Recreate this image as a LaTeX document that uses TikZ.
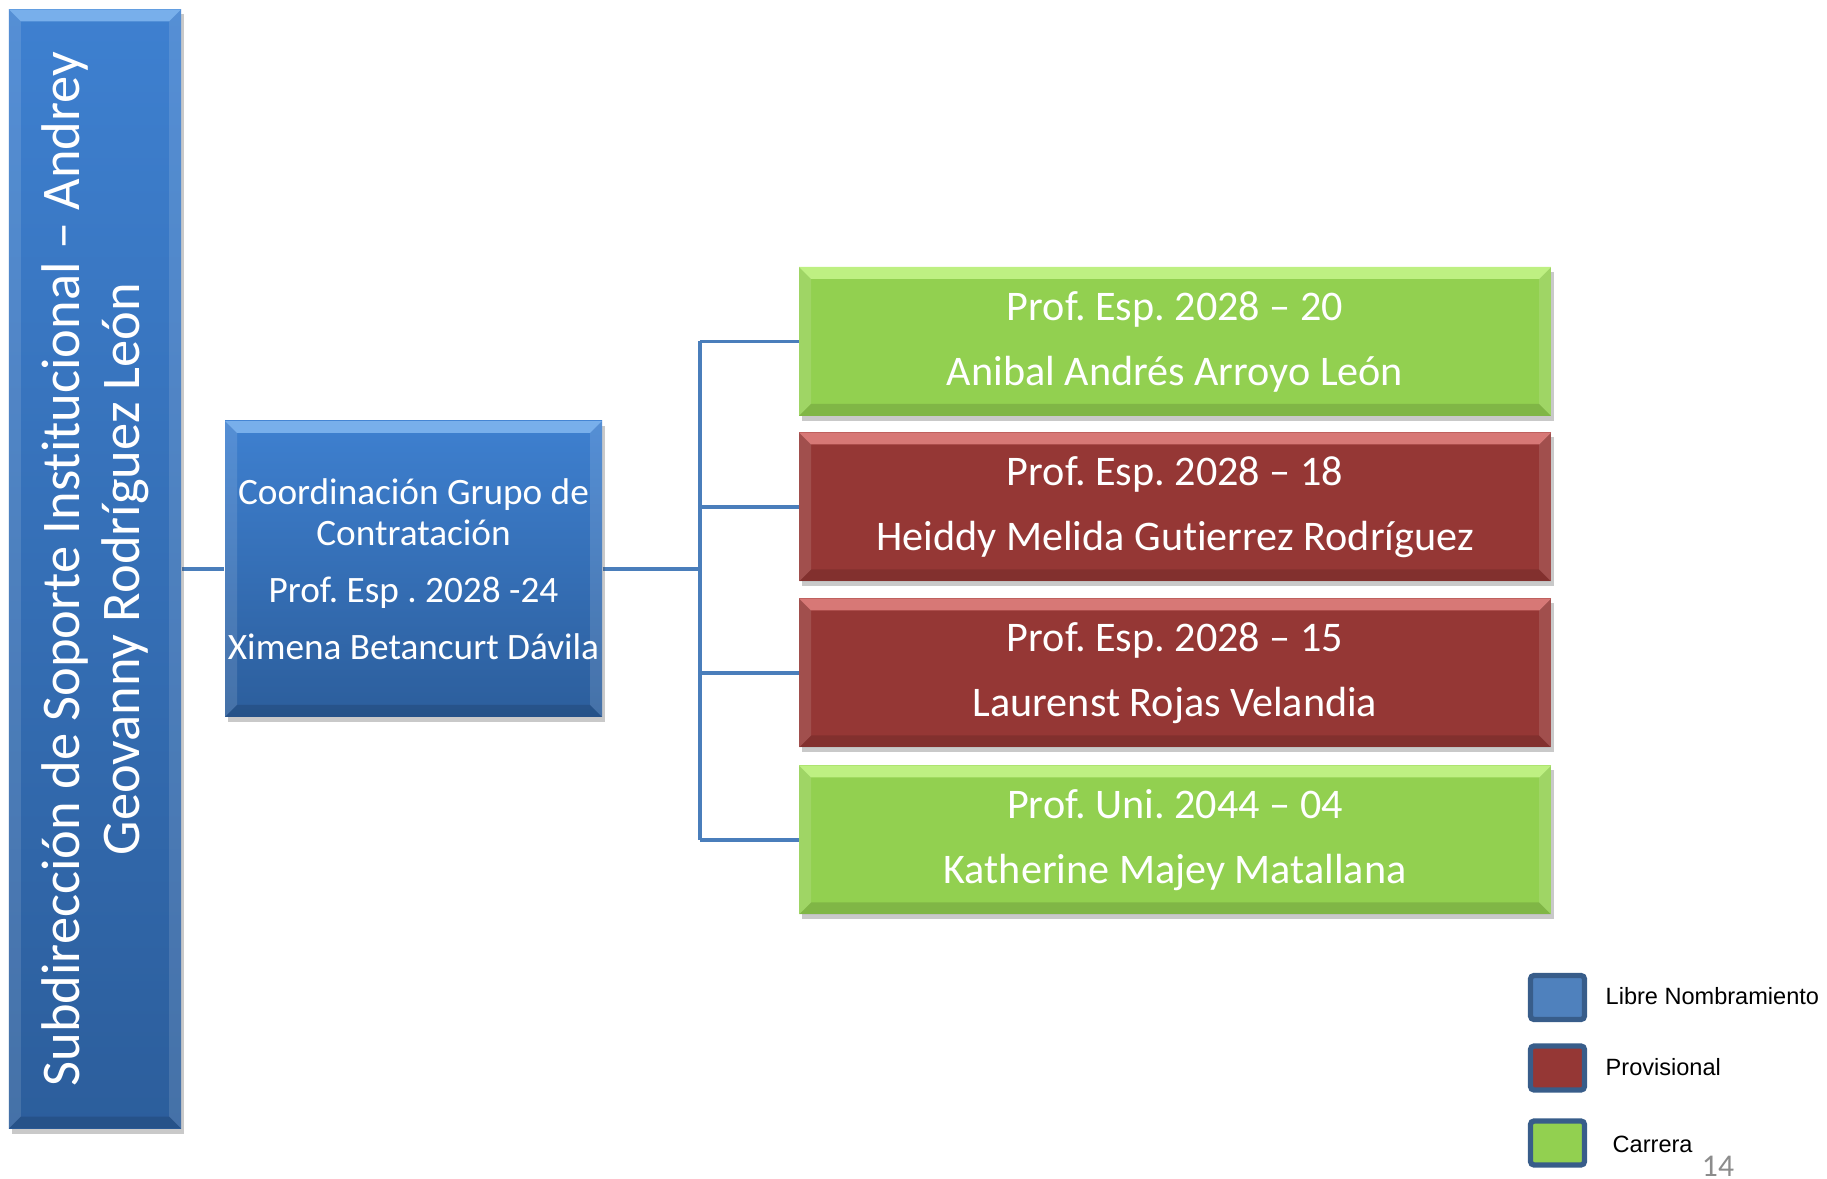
\documentclass[tikz,border=0pt]{standalone}
\usepackage{fontspec}
\setmainfont{Carlito}[Ligatures=NoCommon]
\newfontfamily\legendfont{Liberation Sans}
\usetikzlibrary{shadows}
\frenchspacing

\definecolor{bluetop}{RGB}{62,128,208}
\definecolor{bluebot}{RGB}{44,94,156}
\definecolor{blueedge}{RGB}{120,175,235}
\definecolor{carrera}{RGB}{146,208,80}
\definecolor{greenedge}{RGB}{190,240,130}
\definecolor{provisional}{RGB}{149,55,53}
\definecolor{rededge}{RGB}{215,120,118}
\definecolor{libre}{RGB}{79,129,189}
\definecolor{legborder}{RGB}{56,93,138}
\definecolor{connblue}{RGB}{74,126,187}
\definecolor{pagenum}{RGB}{140,140,140}

\tikzset{
    box/.style={rectangle, inner sep=0pt, text=white, align=center,
        drop shadow={shadow xshift=0.03cm, shadow yshift=-0.05cm, opacity=0.3, fill=black!70}},
    bevel/.style={path picture={
        \fill[#1] (path picture bounding box.north west) -- (path picture bounding box.north east)
            -- ([shift={(-0.12,-0.12)}]path picture bounding box.north east)
            -- ([shift={(0.12,-0.12)}]path picture bounding box.north west) -- cycle;
        \fill[white, opacity=0.12] (path picture bounding box.north west) -- ([shift={(0.12,-0.12)}]path picture bounding box.north west)
            -- ([shift={(0.12,0.12)}]path picture bounding box.south west) -- (path picture bounding box.south west) -- cycle;
        \fill[white, opacity=0.12] (path picture bounding box.north east) -- ([shift={(-0.12,-0.12)}]path picture bounding box.north east)
            -- ([shift={(-0.12,0.12)}]path picture bounding box.south east) -- (path picture bounding box.south east) -- cycle;
        \fill[black, opacity=0.12] (path picture bounding box.south west) -- (path picture bounding box.south east)
            -- ([shift={(-0.12,0.12)}]path picture bounding box.south east)
            -- ([shift={(0.12,0.12)}]path picture bounding box.south west) -- cycle;
    }},
    bluebox/.style={box, top color=bluetop, bottom color=bluebot, bevel=blueedge},
    persbox/.style={box, minimum width=7.52cm, minimum height=1.49cm,
        font=\fontsize{12}{18.5}\selectfont},
    greenbox/.style={persbox, fill=carrera, bevel=greenedge},
    redbox/.style={persbox, fill=provisional, bevel=rededge},
    conn/.style={draw=connblue, line width=1.1pt},
    legbox/.style={rectangle, draw=legborder, line width=1.5pt, rounded corners=1pt,
        minimum width=0.54cm, minimum height=0.44cm, inner sep=0pt},
    legtext/.style={anchor=west, inner sep=0pt, font=\legendfont\fontsize{6.7}{8}\selectfont}
}

\begin{document}
\begin{tikzpicture}
    \useasboundingbox (0,0) rectangle (18.27,-11.79);

    % connectors
    \coordinate (bus) at (7.00,-5.69);
    \node[inner sep=0pt, minimum width=1.72cm, minimum height=11.19cm] (subpos) at (0.95,-5.69) {};
    \node[inner sep=0pt, minimum width=3.77cm, minimum height=2.96cm] (coordpos) at (4.135,-5.69) {};
    \draw[conn] (subpos.east) -- (coordpos.west);
    \draw[conn] (coordpos.east) -- (bus);
    \draw[conn] (7.00,-3.415) -- (7.00,-8.40);
    \draw[conn] (7.00,-3.415) -- (7.99,-3.415);
    \draw[conn] (7.00,-5.07) -- (7.99,-5.07);
    \draw[conn] (7.00,-6.73) -- (7.99,-6.73);
    \draw[conn] (7.00,-8.40) -- (7.99,-8.40);

    % jefatura
    \node[bluebox, minimum width=1.72cm, minimum height=11.19cm] (sub) at (0.95,-5.69) {};
    \node[rotate=90, text=white, align=center, inner sep=0pt,
        font=\fontsize{15.5}{17}\selectfont] (subtxt) at (sub.center)
        {Subdirección de Soporte Institucional – Andrey\\Geovanny Rodríguez León};

    % coordinacion
    \node[bluebox, minimum width=3.77cm, minimum height=2.96cm,
        font=\fontsize{10.6}{11.7}\selectfont] (coord) at (4.135,-5.69)
        {Coordinación Grupo de\\Contratación\\[4.5pt]Prof. Esp . 2028 -24\\[4.5pt]Ximena Betancurt Dávila};

    % profesionales
    \node[greenbox] (p1) at (11.75,-3.415) {Prof. Esp. 2028 – 20\\Anibal Andrés Arroyo León};
    \node[redbox] (p2) at (11.75,-5.07) {Prof. Esp. 2028 – 18\\Heiddy Melida Gutierrez Rodríguez};
    \node[redbox] (p3) at (11.75,-6.73) {Prof. Esp. 2028 – 15\\Laurenst Rojas Velandia};
    \node[greenbox] (p4) at (11.75,-8.40) {Prof. Uni. 2044 – 04\\Katherine Majey Matallana};

    % convenciones
    \node[legbox, fill=libre] (leg1) at (15.575,-9.975) {};
    \node[legbox, fill=provisional] (leg2) at (15.575,-10.68) {};
    \node[legbox, fill=carrera] (leg3) at (15.575,-11.43) {};
    \node[legtext] (leg1txt) at (16.05,-9.96) {Libre Nombramiento};
    \node[legtext] (leg2txt) at (16.05,-10.67) {Provisional};
    \node[legtext] (leg3txt) at (16.12,-11.44) {Carrera};

    \node[text=pagenum, inner sep=0pt, font=\fontsize{9}{10}\selectfont] (pnum) at (17.18,-11.66) {14};
\end{tikzpicture}
\end{document}
